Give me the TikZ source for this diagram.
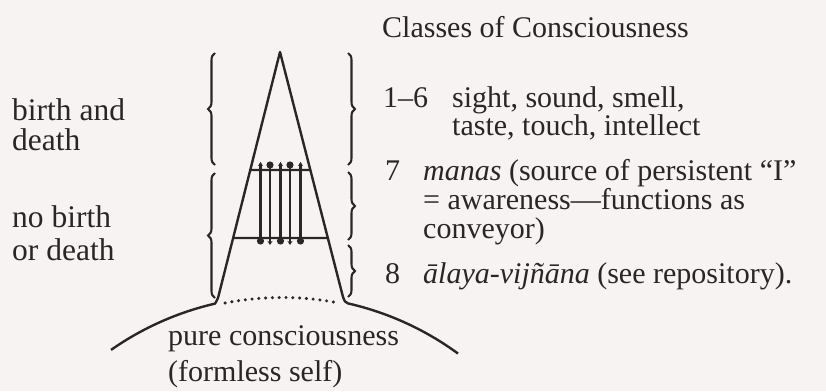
\documentclass[tikz,border=0pt]{standalone}
\usepackage{fontspec}
\setmainfont{Liberation Serif}
\usetikzlibrary{decorations.pathreplacing,arrows.meta,calc}
\definecolor{ink}{HTML}{2B2626}
\definecolor{paper}{HTML}{F7F3F2}
\begin{document}
\begin{tikzpicture}[x=1pt,y=-1pt,
  txt/.style={inner sep=0pt,anchor=base west,text=ink,font=\fontsize{30}{29}\selectfont},
  sidetxt/.style={txt,font=\fontsize{31.5}{30.5}\selectfont},
  stroke/.style={draw=ink,line width=2.4pt,line join=round},
  bracestyle/.style={draw=ink,line width=2.1pt,decorate,decoration={brace,amplitude=7pt}},
  conv/.style={draw=ink,line width=2.1pt,arrows={Circle[length=7pt,width=7pt]-Stealth[length=4pt,width=5pt]}},
  dots/.style={draw=ink,line width=3.4pt,line cap=round,dash pattern=on 0pt off 6.8pt}
  ]
\fill[paper] (0,0) rectangle (826,391);
\useasboundingbox (0,0) rectangle (826,391);

% geometry
\coordinate (apex) at (280,52);
\coordinate (lb) at (218,298);
\coordinate (rb) at (343,297);
\coordinate (C) at (282,594);
\coordinate (C2) at (282,595.5);
\coordinate (le) at ($(C)+(235.0:298)$);
\coordinate (lj) at ($(C)+(257.0:298)$);
\coordinate (rj) at ($(C)+(282.8:298)$);

% cone with the arc of pure consciousness
\draw[stroke] (le) arc[start angle=235.0,end angle=257.0,radius=298]
  .. controls (216,302) .. (lb) -- (apex) -- (rb)
  .. controls (345,302) .. (rj)
  arc[start angle=282.8,end angle=306.2,radius=298];

% dotted base
\draw[dots] ($(C2)+(259:298)$) arc[start angle=259,end angle=281,radius=298];

% the two cross bars
\coordinate (u1) at ($(apex)!0.4797!(lb)$);
\coordinate (u2) at ($(apex)!0.4816!(rb)$);
\coordinate (d1) at ($(apex)!0.7561!(lb)$);
\coordinate (d2) at ($(apex)!0.7592!(rb)$);
\draw[stroke,line width=2.1pt] (u1) -- (u2);
\draw[stroke,line width=2.1pt] (d1) -- (d2);

% conveyor
\coordinate (c1b) at (260.5,244.5); \coordinate (c1t) at (260.5,162);
\coordinate (c2b) at (270,245);     \coordinate (c2t) at (270,161.5);
\coordinate (c3b) at (280.5,244.5); \coordinate (c3t) at (280.5,162);
\coordinate (c4b) at (290,245);     \coordinate (c4t) at (290,161.5);
\coordinate (c5b) at (300.5,244.5); \coordinate (c5t) at (300.5,162);
\draw[conv] (c1b) -- (c1t);
\draw[conv] (c2t) -- (c2b);
\draw[conv] (c3b) -- (c3t);
\draw[conv] (c4t) -- (c4b);
\draw[conv] (c5b) -- (c5t);

% braces
\coordinate (bl1a) at (215,165); \coordinate (bl1b) at (215,53);
\coordinate (bl2a) at (215,298); \coordinate (bl2b) at (215,173);
\coordinate (br1a) at (348,53);  \coordinate (br1b) at (348,165);
\coordinate (br2a) at (348,172); \coordinate (br2b) at (348,240);
\coordinate (br3a) at (348,245); \coordinate (br3b) at (348,297);
\draw[bracestyle] (bl1a) -- (bl1b);
\draw[bracestyle] (bl2a) -- (bl2b);
\draw[bracestyle] (br1a) -- (br1b);
\draw[bracestyle] (br2a) -- (br2b);
\draw[bracestyle] (br3a) -- (br3b);

% left labels
\node[sidetxt] (bd1) at (12,120) {birth and};
\node[sidetxt] (bd2) at (12,150.5) {death};
\node[sidetxt] (nb1) at (12,227) {no birth};
\node[sidetxt] (nb2) at (12,260) {or death};

% title and classes
\node[txt] (title) at (382,37) {Classes of Consciousness};
\node[txt] (n16) at (383,107) {1–6};
\node[txt] (t16a) at (452,107) {sight, sound, smell,};
\node[txt] (t16b) at (452,135) {taste, touch, intellect};
\node[txt] (n7) at (385,180) {7};
\node[txt,align=left] (t7) at (423,238) {\textit{manas} (source of persistent “I”\\= awareness—functions as\\conveyor)};
\node[txt] (n8) at (385,283) {8};
\node[txt] (t8) at (423,283) {\textit{ālaya-vijñāna} (see repository).};

% bottom label
\node[txt] (pc1) at (168,345) {pure consciousness};
\node[txt] (pc2) at (168,381) {(formless self)};
\end{tikzpicture}
\end{document}
